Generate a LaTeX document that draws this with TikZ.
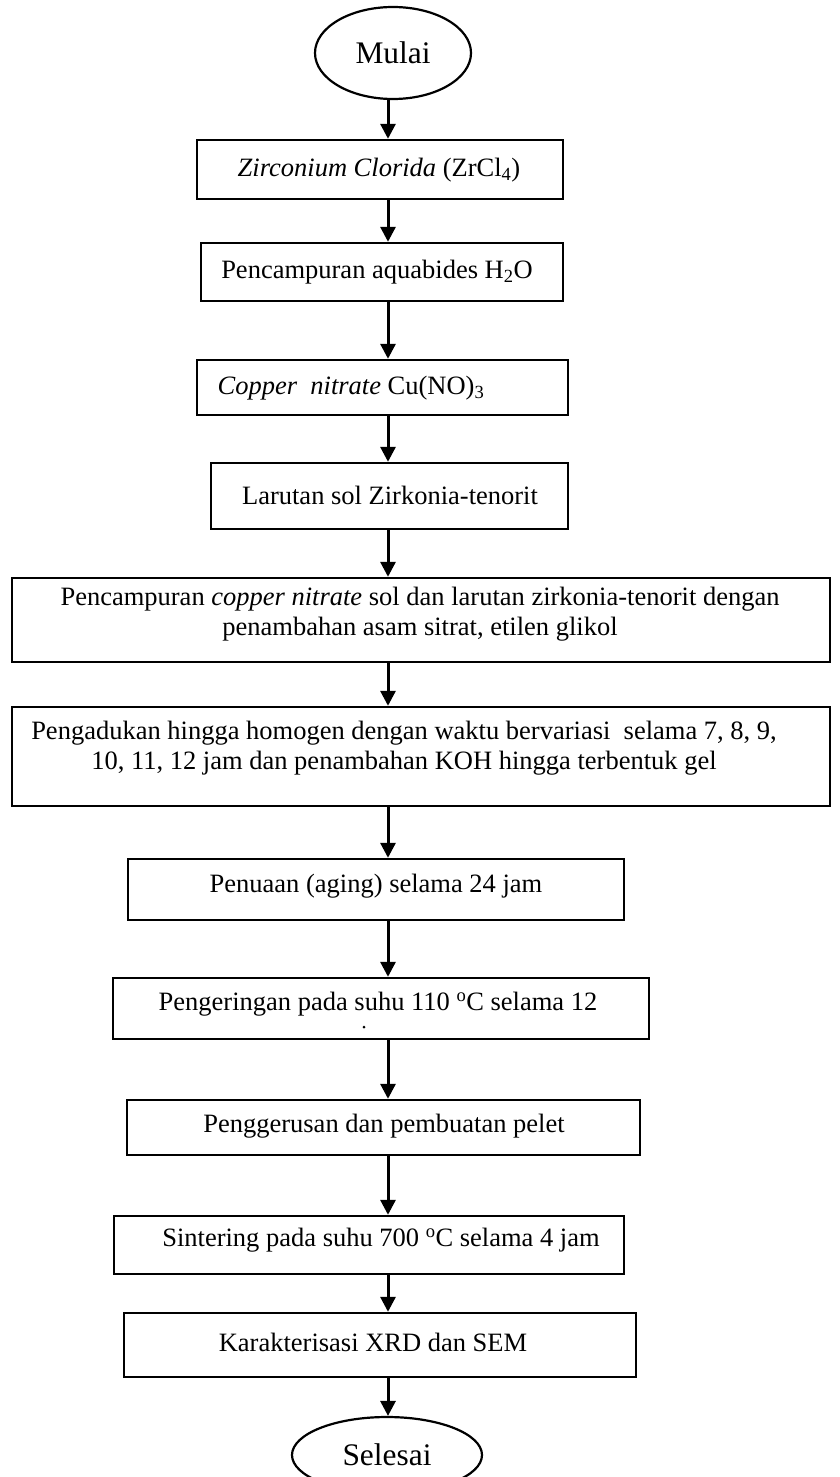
\documentclass[tikz,border=0pt]{standalone}
\usepackage{fontspec}
\setmainfont{Liberation Serif}
\usetikzlibrary{shapes.geometric,arrows.meta}
\begin{document}
\begin{tikzpicture}[x=1pt,y=-1pt,
  boxst/.style={draw,line width=2.4pt,rectangle,inner sep=0pt},
  ovalst/.style={draw,line width=2.2pt,ellipse,inner sep=0pt,font=\fontsize{31.4}{36}\selectfont},
  txt/.style={inner sep=0pt,font=\fontsize{26.5}{30}\selectfont,align=center},
  arr/.style={line width=3pt,-{Triangle[length=15pt,width=15pt]}}]
\useasboundingbox (0,0) rectangle (840,1477);
\fill[white] (0,0) rectangle (840,1477);
\coordinate (ax) at (388,0);
% start / end
\node[ovalst,minimum width=156pt,minimum height=92pt] (start) at (393,53) {Mulai};
\node[ovalst,minimum width=190pt,minimum height=76pt] (stop) at (387,1455) {Selesai};
% boxes
\node[boxst,minimum width=366pt,minimum height=59pt] (b1) at (380,169.5) {};
\node[boxst,minimum width=362pt,minimum height=58pt] (b2) at (382,272) {};
\node[boxst,minimum width=371pt,minimum height=55pt] (b3) at (382.5,387.5) {};
\node[boxst,minimum width=357pt,minimum height=66pt] (b4) at (389.5,496) {};
\node[boxst,minimum width=818pt,minimum height=84pt] (b5) at (421,620) {};
\node[boxst,minimum width=818pt,minimum height=99pt] (b6) at (421,756.5) {};
\node[boxst,minimum width=496pt,minimum height=61pt] (b7) at (376,889.5) {};
\node[boxst,minimum width=536pt,minimum height=61pt] (b8) at (381,1008.5) {};
\node[boxst,minimum width=513pt,minimum height=55pt] (b9) at (383.5,1127.5) {};
\node[boxst,minimum width=510pt,minimum height=58pt] (b10) at (369,1245) {};
\node[boxst,minimum width=512pt,minimum height=64pt] (b11) at (380,1345) {};
% texts
\node[txt] (t1) at (379,170) {\textit{Zirconium Clorida} (ZrCl\textsubscript{4})};
\node[txt] (t2) at (377,272) {Pencampuran aquabides H\textsubscript{2}O};
\node[txt] (t3) at (351,388) {\textit{Copper\ \ nitrate} Cu(NO)\textsubscript{3}};
\node[txt] (t4) at (390,495) {Larutan sol Zirkonia-tenorit};
\node[txt] (t5) at (420,614) {Pencampuran \textit{copper nitrate} sol dan larutan zirkonia-tenorit dengan\\penambahan asam sitrat, etilen glikol};
\node[txt] (t6) at (404,748) {Pengadukan hingga homogen dengan waktu bervariasi\ \ selama 7, 8, 9,\\10, 11, 12 jam dan penambahan KOH hingga terbentuk gel};
\node[txt] (t7) at (376,886) {Penuaan (aging) selama 24 jam};
\node[txt] (t8) at (378,1004) {Pengeringan pada suhu 110 \textsuperscript{o}C selama 12};
\fill (364,1027) circle (1.5pt);
\node[txt] (t9) at (384,1126) {Penggerusan dan pembuatan pelet};
\node[txt] (t10) at (381,1240) {Sintering pada suhu 700 \textsuperscript{o}C selama 4 jam};
\node[txt] (t11) at (373,1342) {Karakterisasi XRD dan SEM};
% arrows
\draw[arr] (start.south -| ax) -- (b1.north -| ax);
\draw[arr] (b1.south -| ax) -- (b2.north -| ax);
\draw[arr] (b2.south -| ax) -- (b3.north -| ax);
\draw[arr] (b3.south -| ax) -- (b4.north -| ax);
\draw[arr] (b4.south -| ax) -- (b5.north -| ax);
\draw[arr] (b5.south -| ax) -- (b6.north -| ax);
\draw[arr] (b6.south -| ax) -- (b7.north -| ax);
\draw[arr] (b7.south -| ax) -- (b8.north -| ax);
\draw[arr] (b8.south -| ax) -- (b9.north -| ax);
\draw[arr] (b9.south -| ax) -- (b10.north -| ax);
\draw[arr] (b10.south -| ax) -- (b11.north -| ax);
\draw[arr] (b11.south -| ax) -- (stop.north -| ax);
\end{tikzpicture}
\end{document}
